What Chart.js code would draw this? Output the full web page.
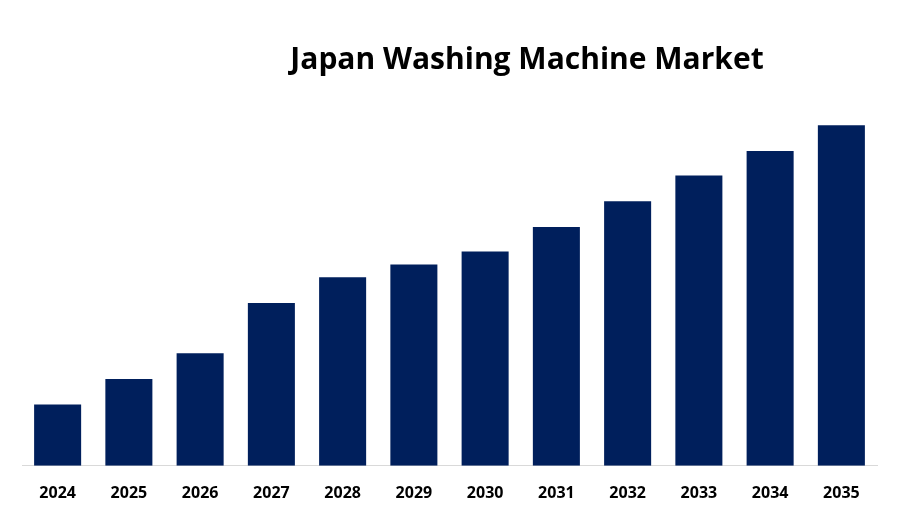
<!DOCTYPE html>
<html><head><script src="https://cdn.jsdelivr.net/npm/chart.js"></script>
<style>body{margin:0;background:#fff}#w{width:900px;height:525px}</style></head>
<body><div id="w"><canvas id="c"></canvas></div>
<script>
const categories=["2024","2025","2026","2027","2028","2029","2030","2031","2032","2033","2034","2035"];
const values=[62,88,114,165,191,204,217,242,268,294,319,345];
const titleText="Japan Washing Machine Market";
const titlePlugin={id:'t',afterDraw(c){const x=c.ctx;x.save();x.font="bold 30px 'Open Sans', 'Liberation Sans', sans-serif";x.fillStyle="#000";x.textAlign="center";x.textBaseline="middle";x.fillText(titleText,527,60);x.restore();}};
new Chart(document.getElementById('c'),{type:'bar',data:{labels:categories,datasets:[{data:values,backgroundColor:'#001f5c',categoryPercentage:0.66,barPercentage:1}]},
options:{responsive:true,maintainAspectRatio:false,animation:false,layout:{padding:{top:71,left:22,right:23,bottom:12}},
plugins:{legend:{display:false},tooltip:{enabled:false}},
scales:{y:{display:false,min:0,max:400},x:{grid:{display:false},border:{color:'#d9d9d9'},ticks:{color:'#000',padding:10,font:{family:"'Open Sans', 'Liberation Sans', sans-serif",weight:'bold',size:16}}}}},plugins:[titlePlugin]});
</script></body></html>
